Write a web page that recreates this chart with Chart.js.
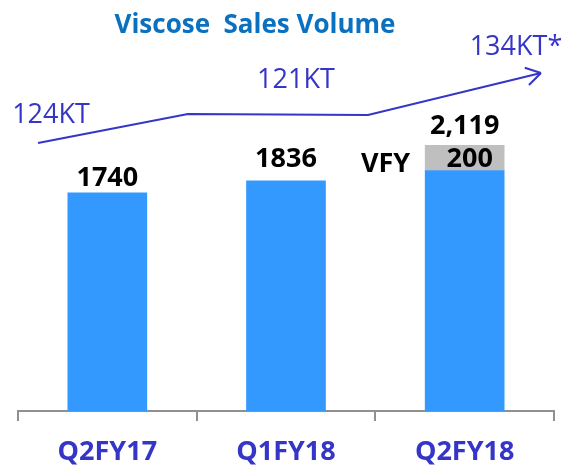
<!DOCTYPE html>
<html>
<head>
<meta charset="utf-8">
<script src="https://cdn.jsdelivr.net/npm/chart.js@4.4.1/dist/chart.umd.min.js"></script>
<style>
  html, body { margin: 0; padding: 0; background: #fff; }
  #wrap { width: 567px; height: 465px; }
</style>
</head>
<body>
<div id="wrap"><canvas id="chart" width="567" height="465"></canvas></div>
<script>
const categories = ["Q2FY17", "Q1FY18", "Q2FY18"];
const baseVolume = [1740, 1836, 1919];
const vfyVolume = [null, null, 200];
const totalLabels = ["1740", "1836", "2,119"];
const vfyLabel = "VFY";
const trendLabels = ["124KT", "121KT", "134KT*"];
// hand drawn arrow, in (slot, volume) units
const trendX = [0.112, 0.951, 1.959, 2.927];
const trendY = [2138, 2370, 2362, 2697];

const purple = "#3535c8";
const labelLift = [7, 14, 11];

const overlay = {
	id: "overlay",
	afterDatasetsDraw: (chart) => {
		const { ctx } = chart;
		const base = chart.getDatasetMeta(0).data;
		const top = chart.getDatasetMeta(1).data;
		const trend = chart.getDatasetMeta(2).data;

		ctx.save();
		ctx.textBaseline = "alphabetic";
		// title
		ctx.font = "bold 26px 'Open Sans'";
		ctx.fillStyle = "#0a70c0";
		ctx.textAlign = "center";
		ctx.fillText("Viscose  Sales Volume", 255, 33);

		// totals above bars
		ctx.font = "bold 27px 'Open Sans'";
		ctx.fillStyle = "#000";
		totalLabels.forEach((txt, i) => {
			const bar = vfyVolume[i] ? top[i] : base[i];
			ctx.fillText(txt, bar.x, bar.y - labelLift[i]);
		});

		// VFY segment
		const seg = top[2];
		ctx.fillText(String(vfyVolume[2]), seg.x + 5, seg.base - 3);
		ctx.textAlign = "right";
		ctx.fillText(vfyLabel, seg.x - seg.width / 2 - 15, seg.base + 2);

		// arrow head
		const a = trend[2], b = trend[3];
		const ang = Math.atan2(b.y - a.y, b.x - a.x);
		ctx.strokeStyle = purple;
		ctx.lineWidth = 2;
		ctx.beginPath();
		[0.55, -0.55].forEach((d) => {
			ctx.moveTo(b.x, b.y);
			ctx.lineTo(b.x - 17 * Math.cos(ang + d), b.y - 17 * Math.sin(ang + d));
		});
		ctx.stroke();

		// trend labels
		ctx.font = "27px 'Open Sans'";
		ctx.fillStyle = purple;
		ctx.textAlign = "center";
		ctx.fillText(trendLabels[0], trend[0].x + 13, trend[0].y - 20);
		ctx.fillText(trendLabels[1], (trend[1].x + trend[2].x) / 2 + 18, trend[1].y - 26);
		ctx.fillText(trendLabels[2], b.x - 25, b.y - 18);
		ctx.restore();
	},
};

const ctx = document.getElementById("chart").getContext("2d");

new Chart(ctx, {
	type: "bar",
	data: {
		labels: categories,
		datasets: [
			{ data: baseVolume, backgroundColor: "#3399ff", barThickness: 79, grouped: false },
			{ data: vfyVolume, backgroundColor: "#bfbfbf", barThickness: 79, grouped: false },
			{
				type: "line",
				data: trendX.map((x, i) => ({ x, y: trendY[i] })),
				xAxisID: "xt",
				yAxisID: "yt",
				borderColor: purple,
				borderWidth: 2,
				pointRadius: 0,
				tension: 0,
			},
		],
	},
	options: {
		responsive: false,
		animation: false,
		devicePixelRatio: 1,
		layout: { padding: { left: 18, right: 13, top: 35, bottom: -18 } },
		plugins: { legend: { display: false }, tooltip: { enabled: false } },
		scales: {
			x: {
				stacked: true,
				grid: { offset: true, drawOnChartArea: false, tickLength: 10, color: "#909090", lineWidth: 2 },
				border: { color: "#909090", width: 2 },
				ticks: {
					padding: 17.5,
					color: purple,
					font: { family: "'Open Sans'", size: 27, weight: "bold", lineHeight: 1 },
				},
			},
			y: { stacked: true, display: false, min: 0, max: 3000 },
			xt: { type: "linear", display: false, offset: false, min: 0, max: 3 },
			yt: { display: false, min: 0, max: 3000 },
		},
	},
	plugins: [overlay],
});
</script>
</body>
</html>
